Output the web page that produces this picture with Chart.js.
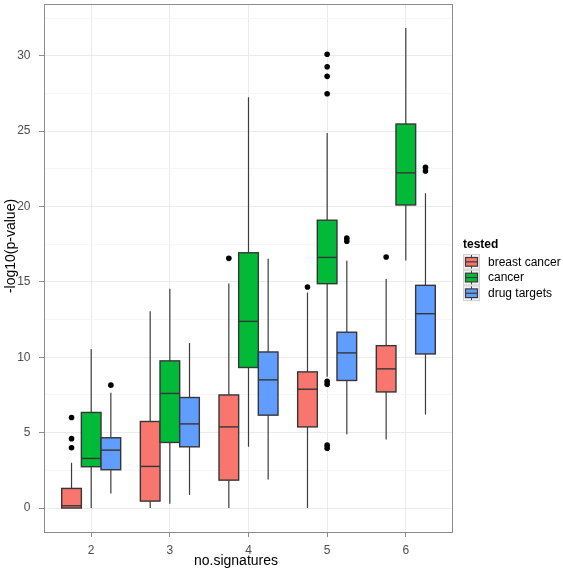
<html>
<head>
    <style>
        body { margin: 0; background: #ffffff; }
        canvas { display: block; }
    </style>
    <script src="https://cdn.jsdelivr.net/npm/chart.js@4.4.0/dist/chart.umd.min.js"></script>
</head>
<body>
<canvas id="myChart" width="563" height="571"></canvas>
<script>
    // categories on the x axis
    var signatures = [2, 3, 4, 5, 6];
    var groups = ["breast cancer", "cancer", "drug targets"];
    var groupColors = ["#F8766D", "#00BA38", "#619CFF"];
    var yMajorTicks = [0, 5, 10, 15, 20, 25, 30];

    // box stats: whisker low, q1, median, q3, whisker high
    var breastLow  = [0,    0,     0,     0,     4.55];
    var breastQ1   = [0,    0.46,  1.85,  5.38,  7.7];
    var breastMed  = [0.15, 2.76,  5.38,  7.88,  9.23];
    var breastQ3   = [1.3,  5.74,  7.5,   9.03,  10.77];
    var breastHigh = [3.0,  13.05, 14.9,  14.3,  15.19];
    var breastOut  = [[6.0, 4.6, 4.0], [], [16.56], [14.66], [16.65]];

    var cancerLow  = [0,     0.29,  4.06,  8.7,   16.42];
    var cancerQ1   = [2.74,  4.35,  9.32,  14.88, 20.1];
    var cancerMed  = [3.29,  7.6,   12.38, 16.62, 22.23];
    var cancerQ3   = [6.34,  9.76,  16.93, 19.09, 25.47];
    var cancerHigh = [10.55, 14.55, 27.24, 24.88, 31.83];
    var cancerOut  = [[], [], [], [30.1, 29.27, 28.63, 27.48, 8.41, 8.21, 4.17, 3.97], []];

    var drugLow  = [0.97, 0.86,  1.9,   4.9,   6.2];
    var drugQ1   = [2.54, 4.06,  6.16,  8.46,  10.22];
    var drugMed  = [3.84, 5.58,  8.5,   10.29, 12.89];
    var drugQ3   = [4.66, 7.33,  10.35, 11.66, 14.77];
    var drugHigh = [7.64, 10.95, 16.54, 16.4,  20.88];
    var drugOut  = [[8.15], [], [], [17.9, 17.7], [22.6, 22.35]];

    var stats = [
        { low: breastLow, q1: breastQ1, med: breastMed, q3: breastQ3, high: breastHigh, out: breastOut },
        { low: cancerLow, q1: cancerQ1, med: cancerMed, q3: cancerQ3, high: cancerHigh, out: cancerOut },
        { low: drugLow,   q1: drugQ1,   med: drugMed,   q3: drugQ3,   high: drugHigh,   out: drugOut }
    ];

    var dodge = [-0.25, 0, 0.25];
    var boxWidth = 0.25;
    var fontName = "'Liberation Sans', Arial, sans-serif";

    // outlier points go in as normal scatter datasets
    var datasets = [];
    for (var g = 0; g < groups.length; g++) {
        var pts = [];
        for (var i = 0; i < signatures.length; i++) {
            for (var v of stats[g].out[i]) {
                pts.push({ x: signatures[i] + dodge[g], y: v });
            }
        }
        datasets.push({
            label: groups[g],
            data: pts,
            pointRadius: 2.8,
            pointBackgroundColor: "#000000",
            pointBorderWidth: 0,
            showLine: false
        });
    }

    function crisp(v) {
        return Math.round(v) + 0.5;
    }

    var boxPlugin = {
        id: "boxes",
        beforeDatasetsDraw: function(chart) {
            var ctx = chart.ctx;
            var xs = chart.scales.x;
            var ys = chart.scales.y;
            var half = (xs.getPixelForValue(boxWidth) - xs.getPixelForValue(0)) / 2;

            ctx.save();
            for (var g = 0; g < groups.length; g++) {
                var s = stats[g];
                for (var i = 0; i < signatures.length; i++) {
                    var xc = xs.getPixelForValue(signatures[i] + dodge[g]);
                    var yLow = ys.getPixelForValue(s.low[i]);
                    var yQ1 = ys.getPixelForValue(s.q1[i]);
                    var yMed = ys.getPixelForValue(s.med[i]);
                    var yQ3 = ys.getPixelForValue(s.q3[i]);
                    var yHigh = ys.getPixelForValue(s.high[i]);

                    // whiskers
                    ctx.strokeStyle = "#3d3d3d";
                    ctx.lineWidth = 1.2;
                    ctx.beginPath();
                    ctx.moveTo(xc, yQ3);
                    ctx.lineTo(xc, yHigh);
                    ctx.moveTo(xc, yQ1);
                    ctx.lineTo(xc, yLow);
                    ctx.stroke();

                    // box
                    ctx.fillStyle = groupColors[g];
                    ctx.fillRect(xc - half, yQ3, half * 2, yQ1 - yQ3);
                    ctx.strokeStyle = "#363636";
                    ctx.lineWidth = 1.4;
                    ctx.strokeRect(xc - half, yQ3, half * 2, yQ1 - yQ3);

                    // median
                    ctx.beginPath();
                    ctx.moveTo(xc - half, yMed);
                    ctx.lineTo(xc + half, yMed);
                    ctx.stroke();
                }
            }
            ctx.restore();
        },
        afterDraw: function(chart) {
            var ctx = chart.ctx;
            var area = chart.chartArea;

            ctx.save();
            // panel border
            ctx.strokeStyle = "#8c8c8c";
            ctx.lineWidth = 1;
            ctx.strokeRect(crisp(area.left), crisp(area.top),
                Math.round(area.right - area.left) - 1, Math.round(area.bottom - area.top));

            // axis titles
            ctx.fillStyle = "#000000";
            ctx.font = "14px " + fontName;
            ctx.textAlign = "center";
            ctx.textBaseline = "middle";
            ctx.fillText("no.signatures", 236, 561);

            ctx.save();
            ctx.translate(11, 246);
            ctx.rotate(-Math.PI / 2);
            ctx.fillText("-log10(p-value)", 0, 0);
            ctx.restore();

            // legend
            ctx.textAlign = "left";
            ctx.font = "bold 12px " + fontName;
            ctx.fillText("tested", 463, 245);

            var kx = 463, ky = 254, kw = 17, kh = 15.7;
            ctx.font = "12px " + fontName;
            for (var g = 0; g < groups.length; g++) {
                var top = ky + g * kh;
                ctx.fillStyle = "#f2f2f2";
                ctx.fillRect(kx, top, kw, kh);
                ctx.strokeStyle = "#d0d0d0";
                ctx.lineWidth = 1;
                ctx.strokeRect(kx + 0.5, top + 0.5, kw - 1, kh - 1);

                var cx = kx + kw / 2;
                ctx.strokeStyle = "#444444";
                ctx.lineWidth = 1;
                ctx.beginPath();
                ctx.moveTo(cx, top + 1);
                ctx.lineTo(cx, top + kh - 1);
                ctx.stroke();

                ctx.fillStyle = groupColors[g];
                ctx.fillRect(kx + 2.5, top + 3.5, kw - 5, kh - 7);
                ctx.strokeStyle = "#3a3a3a";
                ctx.lineWidth = 1.2;
                ctx.strokeRect(kx + 2.5, top + 3.5, kw - 5, kh - 7);
                ctx.beginPath();
                ctx.moveTo(kx + 2.5, top + kh / 2);
                ctx.lineTo(kx + kw - 2.5, top + kh / 2);
                ctx.stroke();

                ctx.fillStyle = "#000000";
                ctx.fillText(groups[g], 488, top + kh / 2 + 0.5);
            }
            ctx.restore();
        }
    };

    var yTicksAll = [];
    for (var t = 0; t <= 32.5; t += 2.5) {
        yTicksAll.push(t);
    }

    var ctx = document.getElementById("myChart").getContext("2d");
    var chart = new Chart(ctx, {
        type: "scatter",
        data: { datasets: datasets },
        plugins: [boxPlugin],
        options: {
            responsive: false,
            animation: false,
            devicePixelRatio: 1,
            layout: { padding: { left: 0, right: 110, top: 3, bottom: 0 } },
            plugins: {
                legend: { display: false },
                tooltip: { enabled: false }
            },
            scales: {
                x: {
                    type: "linear",
                    min: 1.4,
                    max: 6.6,
                    afterBuildTicks: function(ax) {
                        ax.ticks = signatures.map(function(v) { return { value: v }; });
                    },
                    afterFit: function(ax) {
                        ax.height = 39;
                        ax.paddingLeft = 0;
                        ax.paddingRight = 0;
                    },
                    grid: { color: "#ebebeb", lineWidth: 1, tickLength: 5, tickColor: "#8c8c8c" },
                    border: { display: false },
                    ticks: {
                        autoSkip: false,
                        maxRotation: 0,
                        padding: 6,
                        color: "#4d4d4d",
                        font: { family: fontName, size: 12 }
                    }
                },
                y: {
                    type: "linear",
                    min: -1.59,
                    max: 33.43,
                    afterBuildTicks: function(ax) {
                        ax.ticks = yTicksAll.map(function(v) { return { value: v }; });
                    },
                    afterFit: function(ax) {
                        ax.width = 44;
                        ax.paddingTop = 0;
                        ax.paddingBottom = 0;
                    },
                    grid: {
                        color: function(c) {
                            return yMajorTicks.indexOf(c.tick.value) >= 0 ? "#ebebeb" : "#f6f6f6";
                        },
                        tickColor: function(c) {
                            return yMajorTicks.indexOf(c.tick.value) >= 0 ? "#8c8c8c" : "rgba(0,0,0,0)";
                        },
                        lineWidth: 1,
                        tickLength: 5
                    },
                    border: { display: false },
                    ticks: {
                        autoSkip: false,
                        padding: 8.5,
                        color: "#4d4d4d",
                        font: { family: fontName, size: 12 },
                        callback: function(v) {
                            return yMajorTicks.indexOf(v) >= 0 ? v : "";
                        }
                    }
                }
            }
        }
    });
</script>
</body>
</html>
